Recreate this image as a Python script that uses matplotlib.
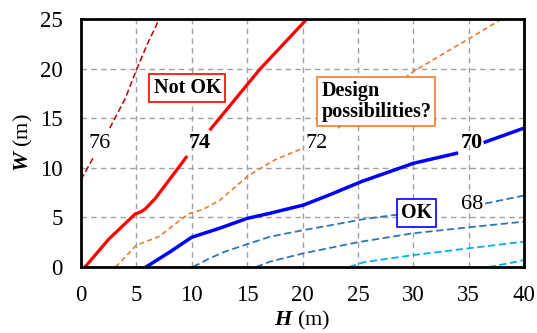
"""Contour-style chart of W against H with design region labels."""
import matplotlib

matplotlib.use("Agg")
import matplotlib.pyplot as plt  # noqa: E402
import numpy as np  # noqa: E402

nan = np.nan

# curves (nan = gap where the level label sits)
h76 = [0.0, 1.2, nan, 2.6, 4.0, 5.05, 6.0, 7.07]
w76 = [8.8, 11.2, nan, 14.0, 17.0, 20.0, 22.5, 25.0]

h74 = [0.36, 2.5, 4.9, 5.4, 5.8, 6.7, 9.5, nan, 11.7, 16.2, 20.4]
w74 = [0.0, 2.8, 5.35, 5.55, 5.85, 6.9, 11.06, nan, 13.9, 20.0, 25.0]

h72 = [3.13, 5.0, 7.0, 9.7, 11.0, 12.5, 13.75, 15.1, 17.5, 20.1, nan,
       23.2, 26.5, 30.0, 35.3, 38.0]
w72 = [0.0, 2.2, 3.05, 5.35, 5.8, 6.7, 7.9, 9.2, 10.8, 12.0, nan,
       14.0, 16.8, 19.7, 23.2, 25.0]

h70 = [5.87, 8.0, 10.0, 12.5, 15.0, 17.0, 20.1, 22.5, 25.3, 30.0, 33.9, nan, 36.5, 40.0]
w70 = [0.0, 1.5, 3.0, 3.9, 4.9, 5.4, 6.25, 7.3, 8.6, 10.45, 11.46, nan, 12.6, 14.0]

h68 = [10.1, 11.6, 13.0, 15.0, 17.06, 20.0, 22.5, 25.6, 28.0, 32.1, nan, 36.5, 40.0]
w68 = [0.0, 0.87, 1.55, 2.3, 3.05, 3.7, 4.2, 4.84, 5.2, 5.75, nan, 6.4, 7.2]

h66 = [15.8, 17.06, 20.1, 25.0, 30.0, 35.0, 40.0]
w66 = [0.0, 0.54, 1.38, 2.5, 3.4, 4.0, 4.57]

h64 = [24.2, 25.6, 30.0, 35.1, 40.0]
w64 = [0.0, 0.5, 1.2, 1.9, 2.55]

h62 = [36.8, 38.5, 40.0]
w62 = [0.0, 0.35, 0.7]

levels = ["76", "74", "72", "70", "68"]
level_pos = [(1.7, 12.5), (10.7, 12.5), (21.3, 12.5), (35.3, 12.5), (35.3, 6.3)]

plt.rcParams["font.family"] = ["Liberation Serif", "DejaVu Serif"]
plt.rcParams["mathtext.fontset"] = "custom"
plt.rcParams["mathtext.bfit"] = "Liberation Serif:italic:bold"
plt.rcParams["mathtext.rm"] = "Liberation Serif"

fig = plt.figure(figsize=(5.37, 3.33), dpi=100)
ax = fig.add_axes([81 / 537, 1 - 267 / 333, 443 / 537, 248 / 333])

ax.plot(h76, w76, color="#C00000", lw=1.1, ls=(0, (4, 2)))
ax.plot(h74, w74, color="#FF0000", lw=2.3)
ax.plot(h72, w72, color="#ED7D31", lw=1.2, ls=(0, (3, 2)))
ax.plot(h70, w70, color="#0000FF", lw=2.5)
ax.plot(h68, w68, color="#2E75B6", lw=1.3, ls=(0, (4, 2)))
ax.plot(h66, w66, color="#2E75B6", lw=1.3, ls=(0, (4, 2)))
ax.plot(h64, w64, color="#00B0F0", lw=1.3, ls=(0, (4, 2)))
ax.plot(h62, w62, color="#00B0F0", lw=1.3, ls=(0, (4, 2)))

for lab, (x, y) in zip(levels, level_pos):
    bold = lab in ("74", "70")
    ax.text(x, y, lab, fontsize=16, ha="center", va="center",
            fontweight="bold" if bold else "normal", zorder=5)

ax.text(9.6, 18.0, "Not OK", fontsize=14.5, fontweight="bold", ha="center", va="center",
        bbox=dict(boxstyle="square,pad=0.2", fc="white", ec="#FF0000", lw=1.2), zorder=6)
ax.text(21.7, 16.7, "Design\npossibilities?", fontsize=14.5, fontweight="bold",
        ha="left", va="center", linespacing=1.1,
        bbox=dict(boxstyle="square,pad=0.2", fc="white", ec="#ED7D31", lw=1.2), zorder=6)
ax.text(30.3, 5.4, "OK", fontsize=14.5, fontweight="bold", ha="center", va="center",
        bbox=dict(boxstyle="square,pad=0.2", fc="white", ec="#0000FF", lw=1.2), zorder=6)

ax.set_xlim(0, 40)
ax.set_ylim(0, 25)
ax.set_xticks(range(0, 41, 5))
ax.set_yticks(range(0, 26, 5))
ax.tick_params(length=0, labelsize=16.5)
ax.tick_params(axis="x", pad=13)
ax.tick_params(axis="y", pad=13)
ax.grid(True, color="#A0A0A0", ls=(0, (4, 3)), lw=1.0)
ax.set_axisbelow(True)
for sp in ax.spines.values():
    sp.set_linewidth(2.0)

ax.set_xlabel(r"$\mathbfit{H}$ (m)", fontsize=16, labelpad=2)
ax.set_ylabel(r"$\mathbfit{W}$ (m)", fontsize=16, labelpad=4)

fig.savefig("out.png", dpi=100)
